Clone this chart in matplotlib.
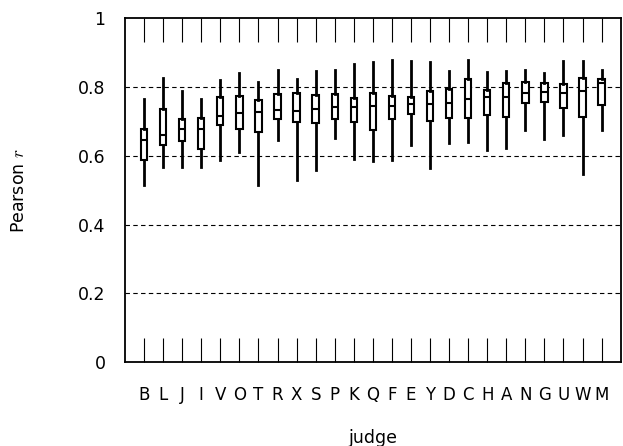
import matplotlib
matplotlib.use('Agg')
import matplotlib.pyplot as plt

# judges in plotted order
judges = ['B', 'L', 'J', 'I', 'V', 'O', 'T', 'R', 'X', 'S', 'P', 'K', 'Q',
          'F', 'E', 'Y', 'D', 'C', 'H', 'A', 'N', 'G', 'U', 'W', 'M']

# five-number summaries
whislo = [0.514, 0.567, 0.567, 0.569, 0.589, 0.610, 0.514, 0.645, 0.530,
          0.559, 0.652, 0.592, 0.585, 0.589, 0.633, 0.565, 0.637, 0.640,
          0.618, 0.623, 0.676, 0.649, 0.660, 0.548, 0.676]
q1 = [0.589, 0.632, 0.644, 0.621, 0.689, 0.679, 0.668, 0.706, 0.699,
      0.697, 0.708, 0.699, 0.676, 0.706, 0.723, 0.702, 0.711, 0.711,
      0.718, 0.714, 0.755, 0.758, 0.738, 0.714, 0.749]
med = [0.647, 0.661, 0.678, 0.679, 0.717, 0.724, 0.727, 0.732, 0.730,
       0.735, 0.742, 0.743, 0.745, 0.746, 0.752, 0.751, 0.755, 0.764,
       0.771, 0.771, 0.782, 0.786, 0.784, 0.790, 0.811]
q3 = [0.679, 0.736, 0.707, 0.711, 0.770, 0.773, 0.763, 0.780, 0.784,
      0.778, 0.780, 0.767, 0.783, 0.774, 0.772, 0.789, 0.794, 0.823,
      0.791, 0.813, 0.815, 0.811, 0.808, 0.825, 0.824]
whishi = [0.766, 0.826, 0.790, 0.766, 0.821, 0.840, 0.815, 0.850, 0.823,
          0.847, 0.850, 0.868, 0.874, 0.878, 0.876, 0.872, 0.847, 0.878,
          0.844, 0.848, 0.850, 0.842, 0.876, 0.875, 0.850]

stats = []
for i in range(len(judges)):
    stats.append({'label': judges[i], 'whislo': whislo[i], 'q1': q1[i],
                  'med': med[i], 'q3': q3[i], 'whishi': whishi[i],
                  'fliers': []})

plt.rcParams['mathtext.fontset'] = 'cm'
fig = plt.figure(figsize=(6.23, 4.46), dpi=100)
ax = fig.add_axes([0.2006, 0.1877, 0.7957, 0.7713])

positions = list(range(1, len(judges) + 1))
ax.bxp(stats, positions=positions, widths=0.33, showcaps=False,
       showfliers=False, patch_artist=True,
       boxprops=dict(facecolor='white', edgecolor='black', linewidth=1.5),
       whiskerprops=dict(color='black', linewidth=2),
       medianprops=dict(color='black', linewidth=1.5))

for yv in [0.2, 0.4, 0.6, 0.8]:
    ax.axhline(yv, color='black', linestyle=(0, (4, 3)), linewidth=0.8,
               zorder=0)

ax.set_xlim(0, len(judges) + 1)
ax.set_ylim(0, 1)
ax.set_yticks([0, 0.2, 0.4, 0.6, 0.8, 1])
ax.set_yticklabels(['0', '0.2', '0.4', '0.6', '0.8', '1'])
ax.set_xticks(positions)
ax.set_xticklabels(judges)
ax.tick_params(axis='x', direction='in', length=17, width=0.8, top=True,
               bottom=True, pad=17, labelsize=12)
ax.tick_params(axis='y', direction='in', length=0, pad=14, labelsize=12.5)
for s in ax.spines.values():
    s.set_linewidth(1.3)

ax.set_xlabel('judge', fontsize=12.5, labelpad=18)
ax.set_ylabel('Pearson $r$', fontsize=12.5, labelpad=36)

fig.savefig('out.png', dpi=100)
